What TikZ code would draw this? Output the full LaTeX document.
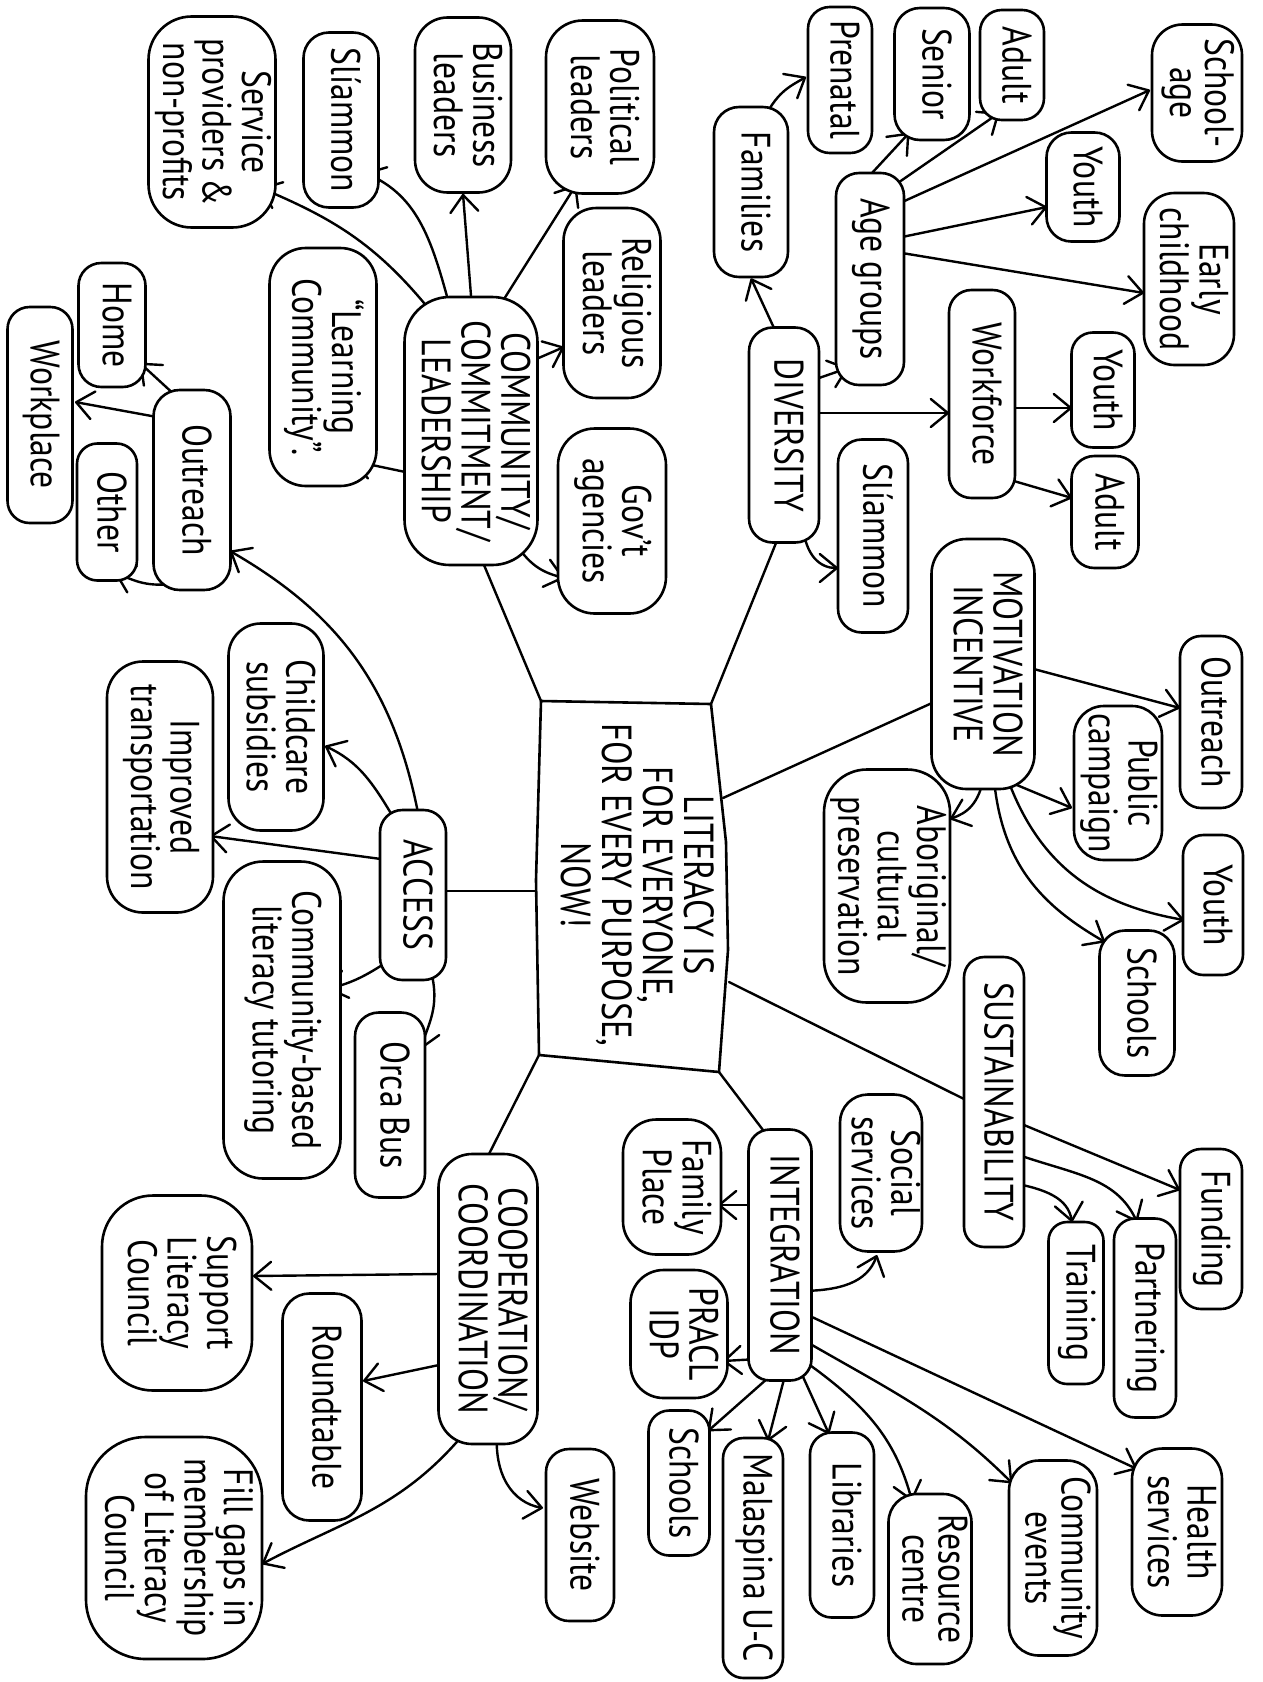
\documentclass[tikz,border=0pt]{standalone}
\usepackage{fontspec}
\setmainfont{PT Sans}[FakeStretch=0.82]
\usetikzlibrary{arrows.meta,calc}
\pgfdeclarelayer{background}
\pgfsetlayers{background,main}
\tikzset{
  mm/.style={draw, fill=white, line width=2.6pt, inner sep=0pt, font=\fontsize{41}{35}\selectfont},
  arr/.style={line width=2.4pt, line cap=round, -{Straight Barb[length=17pt,width=28pt,round]}, shorten <=-14pt},
  spoke/.style={line width=2.4pt, line cap=round, shorten >=-12pt},
}
\newcommand\mmnode[6]{%
  \pgfmathsetmacro\mmr{0.34*min(#4,#5)}%
  \node[mm, minimum width=#4pt, minimum height=#5pt, rounded corners=\mmr pt] (#1) at (#2,-#3)
    {\rotatebox{-90}{\begin{tabular}{@{}c@{}}#6\end{tabular}}};}
\begin{document}
\begin{tikzpicture}[x=1pt,y=1pt]
\begin{pgfonlayer}{background}
\fill[white] (0,0) rectangle (1263,-1682);
\end{pgfonlayer}
\useasboundingbox (0,0) rectangle (1263,-1682);

% centre box
\coordinate (k1) at (541,-701);
\coordinate (k2) at (711,-704);
\coordinate (k3) at (723,-798);
\coordinate (k4) at (729,-982);
\coordinate (k5) at (719,-1072);
\coordinate (k6) at (539,-1055);
\coordinate (k7) at (536,-891);
\draw[line width=2.6pt, line join=round, fill=white] (k1) -- (k2) -- (726,-842) -- (728,-950) -- (k5) -- (k6) -- (536,-880) -- cycle;
\node[font=\fontsize{42}{37}\selectfont, inner sep=0pt] (ctr) at (632,-885)
  {\rotatebox{-90}{\begin{tabular}{@{}c@{}}LITERACY IS\\FOR EVERYONE,\\FOR EVERY PURPOSE,\\NOW!\end{tabular}}};

% nodes
\mmnode{serv}{212}{122}{127}{211}{Service\\providers\,\&\\non-profits}
\mmnode{sliaA}{341}{120}{75}{175}{Slíammon}
\mmnode{bus}{463}{105}{96}{175}{Business\\leaders}
\mmnode{pol}{600}{107}{108}{173}{Political\\leaders}
\mmnode{rel}{612}{303}{97}{190}{Religious\\leaders}
\mmnode{gov}{612}{521}{108}{185}{Gov’t\\agencies}
\mmnode{ccl}{471}{431}{133}{268}{COMMUNITY/\\COMMITMENT/\\LEADERSHIP}
\mmnode{learn}{323}{367}{107}{238}{“Learning\\Community”.}
\mmnode{home}{112}{325}{67}{124}{Home}
\mmnode{workp}{40}{415}{65}{216}{Workplace}
\mmnode{outrA}{192}{490}{77}{200}{Outreach}
\mmnode{other}{107}{512}{60}{137}{Other}
\mmnode{child}{276}{727}{95}{207}{Childcare\\subsidies}
\mmnode{impr}{160}{787}{106}{251}{Improved\\transportation}
\mmnode{access}{413}{895}{66}{170}{ACCESS}
\mmnode{cbased}{282}{1020}{117}{317}{Community-based\\literacy tutoring}
\mmnode{orca}{390}{1105}{70}{185}{Orca Bus}
\mmnode{coop}{488}{1299}{99}{290}{COOPERATION/\\COORDINATION}
\mmnode{supp}{177}{1293}{150}{195}{Support\\Literacy\\Council}
\mmnode{round}{322}{1407}{79}{227}{Roundtable}
\mmnode{fill}{174}{1548}{176}{222}{Fill gaps in\\membership\\of Literacy\\Council}
\mmnode{web}{580}{1535}{68}{172}{Website}
\mmnode{famp}{672}{1187}{98}{135}{Family\\Place}
\mmnode{integ}{780}{1255}{63}{251}{INTEGRATION}
\mmnode{pracl}{679}{1334}{97}{128}{PRACL\\IDP}
\mmnode{schB}{679}{1483}{61}{145}{Schools}
\mmnode{mal}{753}{1558}{60}{240}{Malaspina U-C}
\mmnode{lib}{842}{1525}{64}{185}{Libraries}
\mmnode{res}{930}{1579}{83}{170}{Resource\\centre}
\mmnode{cev}{1053}{1558}{88}{195}{Community\\events}
\mmnode{hea}{1177}{1532}{90}{167}{Health\\services}
\mmnode{soc}{881}{1173}{82}{157}{Social\\services}
\mmnode{sus}{994}{1102}{60}{290}{SUSTAINABILITY}
\mmnode{trn}{1076}{1303}{55}{162}{Training}
\mmnode{part}{1145}{1318}{62}{199}{Partnering}
\mmnode{fund}{1211}{1229}{62}{160}{Funding}
\mmnode{mot}{983}{664}{103}{250}{MOTIVATION\\INCENTIVE}
\mmnode{abo}{887}{886}{126}{233}{Aboriginal/\\cultural\\preservation}
\mmnode{outrB}{1211}{722}{62}{172}{Outreach}
\mmnode{pub}{1118}{783}{88}{154}{Public\\campaign}
\mmnode{youC}{1213}{905}{60}{140}{Youth}
\mmnode{schA}{1137}{1003}{75}{145}{Schools}
\mmnode{div}{784}{435}{70}{215}{DIVERSITY}
\mmnode{sliaB}{873}{536}{70}{193}{Slíammon}
\mmnode{wforce}{982}{394}{66}{208}{Workforce}
\mmnode{youB}{1103}{390}{63}{115}{Youth}
\mmnode{aduB}{1105}{512}{67}{112}{Adult}
\mmnode{fam}{751}{192}{74}{170}{Families}
\mmnode{pren}{840}{80}{64}{146}{Prenatal}
\mmnode{age}{870}{279}{68}{212}{Age groups}
\mmnode{sen}{932}{74}{75}{132}{Senior}
\mmnode{aduA}{1012}{65}{64}{110}{Adult}
\mmnode{schage}{1197}{93}{90}{137}{School-\\age}
\mmnode{youA}{1083}{187}{73}{109}{Youth}
\mmnode{early}{1189}{279}{90}{172}{Early\\childhood}

\begin{pgfonlayer}{background}
% spokes from the centre
\draw[spoke] (k1) -- ([shift={(13,-134)}]ccl.center);
\draw[spoke] (k2) -- ([shift={(-8,-108)}]div.center);
\draw[spoke] (k3) -- ([shift={(-51,-39)}]mot.center);
\draw[spoke] (k4) -- ([shift={(-30,3)}]sus.center);
\draw[spoke] (k5) -- ([shift={(-17,125)}]integ.center);
\draw[spoke] (k6) -- ([shift={(1,145)}]coop.center);
\draw[spoke] (k7) -- ([shift={(33,4)}]access.center);
% community commitment
\draw[arr] ([shift={(-41,121)}]ccl.center) to[out=128,in=-23] ([shift={(49,-66)}]serv.center);
\draw[arr] ([shift={(-23,131)}]ccl.center) to[out=105,in=-23] ([shift={(24,-53)}]sliaA.center);
\draw[arr] (ccl.north) -- (bus.south);
\draw[arr] ([shift={(28,124)}]ccl.center) -- ([shift={(-24,-78)}]pol.center);
\draw[arr] ([shift={(63,71)}]ccl.center) -- ([shift={(-48,-44)}]rel.center);
\draw[arr] ([shift={(47,-117)}]ccl.center) to[out=-60,in=165] ([shift={(-48,-57)}]gov.center);
\draw[arr] ([shift={(-61,-42)}]ccl.center) -- ([shift={(30,-94)}]learn.center);
% diversity
\draw[arr] ([shift={(-10,107)}]div.center) -- (fam.south);
\draw[arr] ([shift={(17,82)}]fam.center) to[out=65,in=210] ([shift={(-34,3)}]pren.center);
\draw[arr] ([shift={(35,57)}]div.center) -- ([shift={(-22,-89)}]age.center);
\draw[arr] ([shift={(35,22)}]div.center) -- ([shift={(-33,-19)}]wforce.center);
\draw[arr] ([shift={(20,-104)}]div.center) to[out=-85,in=180] ([shift={(-35,-32)}]sliaB.center);
\draw[arr] ([shift={(2,106)}]age.center) -- ([shift={(-23,-59)}]sen.center);
\draw[arr] ([shift={(22,92)}]age.center) -- ([shift={(-13,-48)}]aduA.center);
\draw[arr] ([shift={(30,76)}]age.center) -- ([shift={(-47,3)}]schage.center);
\draw[arr] ([shift={(32,42)}]age.center) -- ([shift={(-36,-20)}]youA.center);
\draw[arr] ([shift={(32,26)}]age.center) -- ([shift={(-45,-14)}]early.center);
\draw[arr] ([shift={(33,-14)}]wforce.center) -- ([shift={(-31,-18)}]youB.center);
\draw[arr] ([shift={(25,-85)}]wforce.center) -- ([shift={(-33,14)}]aduB.center);
% motivation
\draw[arr] ([shift={(47,-4)}]mot.center) -- ([shift={(-31,14)}]outrB.center);
\draw[arr] ([shift={(41,-124)}]mot.center) -- ([shift={(-46,-25)}]pub.center);
\draw[arr] ([shift={(-1,-124)}]mot.center) to[out=-100,in=20] ([shift={(63,67)}]abo.center);
\draw[arr] ([shift={(29,-127)}]mot.center) to[out=-70,in=170] ([shift={(-29,-15)}]youC.center);
\draw[arr] ([shift={(12,-127)}]mot.center) to[out=-85,in=150] ([shift={(-32,61)}]schA.center);
% sustainability
\draw[arr] ([shift={(30,-23)}]sus.center) -- ([shift={(-31,39)}]fund.center);
\draw[arr] ([shift={(30,-55)}]sus.center) to[out=-20,in=115] ([shift={(-8,96)}]part.center);
\draw[arr] ([shift={(30,-83)}]sus.center) to[out=-10,in=100] ([shift={(-4,81)}]trn.center);
% integration
\draw[arr] ([shift={(32,-36)}]integ.center) to[out=0,in=-110] ([shift={(-4,-82)}]soc.center);
\draw[arr] ([shift={(-29,50)}]integ.center) -- ([shift={(46,-18)}]famp.center);
\draw[arr] ([shift={(-22,-104)}]integ.center) -- ([shift={(44,-27)}]pracl.center);
\draw[arr] ([shift={(-12,-123)}]integ.center) -- ([shift={(29,52)}]schB.center);
\draw[arr] ([shift={(3,-128)}]integ.center) -- ([shift={(15,117)}]mal.center);
\draw[arr] ([shift={(24,-124)}]integ.center) -- ([shift={(-13,91)}]lib.center);
\draw[arr] ([shift={(30,-110)}]integ.center) to[out=-35,in=105] ([shift={(-18,78)}]res.center);
\draw[arr] ([shift={(32,-90)}]integ.center) to[out=-30,in=135] ([shift={(-41,75)}]cev.center);
\draw[arr] ([shift={(32,-62)}]integ.center) -- ([shift={(-40,63)}]hea.center);
% cooperation
\draw[arr] ([shift={(-49,25)}]coop.center) -- ([shift={(76,17)}]supp.center);
\draw[arr] ([shift={(-49,-66)}]coop.center) -- ([shift={(41,26)}]round.center);
\draw[arr] ([shift={(-24,-135)}]coop.center) to[out=-128,in=28] ([shift={(88,-16)}]fill.center);
\draw[arr] ([shift={(8,-145)}]coop.center) to[out=-95,in=170] ([shift={(-37,27)}]web.center);
% access
\draw[arr] ([shift={(5,83)}]access.center) to[out=100,in=-30] ([shift={(38,-61)}]outrA.center);
\draw[arr] ([shift={(-21,80)}]access.center) to[out=120,in=-25] ([shift={(49,-19)}]child.center);
\draw[arr] ([shift={(-32,36)}]access.center) -- ([shift={(50,-49)}]impr.center);
\draw[arr] ([shift={(-26,-67)}]access.center) to[out=215,in=15] ([shift={(46,31)}]cbased.center);
\draw[arr] ([shift={(21,-87)}]access.center) to[out=-75,in=75] ([shift={(31,56)}]orca.center);
\draw[arr] ([shift={(-15,93)}]outrA.center) -- ([shift={(28,-38)}]home.center);
\draw[arr] ([shift={(-35,73)}]outrA.center) -- ([shift={(35,13)}]workp.center);
\draw[arr] ([shift={(-25,-95)}]outrA.center) to[out=190,in=-20] ([shift={(8,-61)}]other.center);
\end{pgfonlayer}
\end{tikzpicture}
\end{document}
